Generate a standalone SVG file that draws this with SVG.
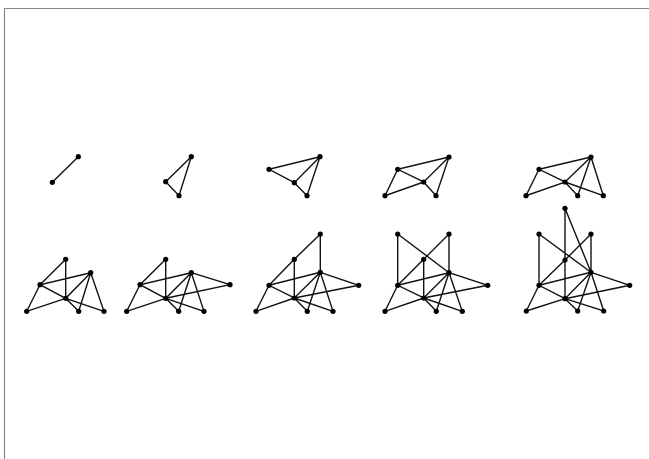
<svg xmlns="http://www.w3.org/2000/svg" width="649" height="459" viewBox="0 0 649 459">
<style>
.e{stroke:#111;stroke-width:1.4;fill:none}
.n{fill:#000}
.frame{stroke:#8a8a8a;stroke-width:1.2;fill:none}
</style>
<rect width="649" height="459" fill="#fff"/>
<path class="frame" d="M4.5,459 V8.5 H649"/>
<g id="connectors" class="e">
<!-- G1 -->
<line x1="78.3" y1="156.7" x2="52.3" y2="182.3"/>
<!-- G2 -->
<path d="M191.3,156.7 L165.7,181.7 L179,195.7 Z"/>
<!-- G3 -->
<path d="M320,156.7 L269,169.3 L294.3,182.7 Z M294.3,182.7 L307,195.7 L320,156.7"/>
<!-- G4 -->
<path d="M449,157 L397.7,169.3 L423.7,182 Z M449,157 L436,195.7 L423.7,182 M397.7,169.3 L385,195.7 L423.7,182"/>
<!-- G5 -->
<path d="M591,157 L539,169.3 L565,182 Z M591,157 L577.7,195.7 M591,157 L603.3,195.7 L565,182 M539,169.3 L526,195.7 L565,182 L577.7,195.7"/>
<!-- G6 -->
<path d="M65.7,259.3 L40,284.7 M65.7,259.3 L65.7,298.3 M90.7,272.7 L40,284.7 L65.7,298.3 Z M90.7,272.7 L78.7,311.3 M90.7,272.7 L104,311.3 L65.7,298.3 L78.7,311.3 M40,284.7 L26.7,311.3 L65.7,298.3"/>
<!-- G7 -->
<path d="M165.7,259.3 L140,284.7 M165.7,259.3 L165.7,298.3 M191.3,272.7 L140,284.7 L165.7,298.3 Z M191.3,272.7 L178.7,311.3 M191.3,272.7 L204,311.3 L165.7,298.3 L178.7,311.3 M140,284.7 L126.7,311.3 L165.7,298.3 M191.3,272.7 L230,284.7 L165.7,298.3"/>
<!-- G8 -->
<path d="M320.3,234 L294.3,259.3 M320.3,234 L320.3,272.3 M294.3,259.3 L269,285.3 M294.3,259.3 L294.3,298 M320.3,272.3 L269,285.3 L294.3,298 Z M320.3,272.3 L307.3,311.3 M320.3,272.3 L333,311.3 L294.3,298 L307.3,311.3 M269,285.3 L256,311.3 L294.3,298 M320.3,272.3 L358.7,285.3 L294.3,298"/>
<!-- G9 -->
<path d="M397.7,234 L397.7,285.3 M397.7,234 L449,272.7 M449,234 L423.7,259.3 M449,234 L449,272.7 M423.7,259.3 L397.7,285.3 M423.7,259.3 L423.7,298 M449,272.7 L397.7,285.3 L423.7,298 Z M449,272.7 L436.3,311.3 M449,272.7 L462.3,311.3 L423.7,298 L436.3,311.3 M397.7,285.3 L385,311.3 L423.7,298 M449,272.7 L487.7,285.3 L423.7,298"/>
<!-- G10 -->
<path d="M565,208.3 L565,260 M565,208.3 L591,272.3 M539,234 L539,285.3 M539,234 L591,272.3 M591,234 L565,260 M591,234 L591,272.3 M565,260 L539,285.3 M565,260 L565,298.7 M591,272.3 L539,285.3 L565,298.7 Z M591,272.3 L577.7,311 M591,272.3 L603.7,311 L565,298.7 L577.7,311 M539,285.3 L526.3,311 L565,298.7 M591,272.3 L629.7,285.3 L565,298.7"/>
</g>
<g id="g1a"><circle class="n" cx="78.3" cy="156.7" r="2.6"/></g>
<g id="g1b"><circle class="n" cx="52.3" cy="182.3" r="2.6"/></g>
<g id="g2a"><circle class="n" cx="191.3" cy="156.7" r="2.6"/></g>
<g id="g2b"><circle class="n" cx="165.7" cy="181.7" r="2.6"/></g>
<g id="g2c"><circle class="n" cx="179" cy="195.7" r="2.6"/></g>
<g id="g3a"><circle class="n" cx="320" cy="156.7" r="2.6"/></g>
<g id="g3b"><circle class="n" cx="269" cy="169.3" r="2.6"/></g>
<g id="g3c"><circle class="n" cx="294.3" cy="182.7" r="2.6"/></g>
<g id="g3d"><circle class="n" cx="307" cy="195.7" r="2.6"/></g>
<g id="g4a"><circle class="n" cx="449" cy="157" r="2.6"/></g>
<g id="g4b"><circle class="n" cx="397.7" cy="169.3" r="2.6"/></g>
<g id="g4c"><circle class="n" cx="423.7" cy="182" r="2.6"/></g>
<g id="g4d"><circle class="n" cx="436" cy="195.7" r="2.6"/></g>
<g id="g4e"><circle class="n" cx="385" cy="195.7" r="2.6"/></g>
<g id="g5a"><circle class="n" cx="591" cy="157" r="2.6"/></g>
<g id="g5b"><circle class="n" cx="539" cy="169.3" r="2.6"/></g>
<g id="g5c"><circle class="n" cx="565" cy="182" r="2.6"/></g>
<g id="g5d"><circle class="n" cx="577.7" cy="195.7" r="2.6"/></g>
<g id="g5e"><circle class="n" cx="526" cy="195.7" r="2.6"/></g>
<g id="g5f"><circle class="n" cx="603.3" cy="195.7" r="2.6"/></g>
<g id="g6g"><circle class="n" cx="65.7" cy="259.3" r="2.6"/></g>
<g id="g6a"><circle class="n" cx="90.7" cy="272.7" r="2.6"/></g>
<g id="g6b"><circle class="n" cx="40" cy="284.7" r="2.6"/></g>
<g id="g6c"><circle class="n" cx="65.7" cy="298.3" r="2.6"/></g>
<g id="g6d"><circle class="n" cx="78.7" cy="311.3" r="2.6"/></g>
<g id="g6e"><circle class="n" cx="26.7" cy="311.3" r="2.6"/></g>
<g id="g6f"><circle class="n" cx="104" cy="311.3" r="2.6"/></g>
<g id="g7g"><circle class="n" cx="165.7" cy="259.3" r="2.6"/></g>
<g id="g7a"><circle class="n" cx="191.3" cy="272.7" r="2.6"/></g>
<g id="g7b"><circle class="n" cx="140" cy="284.7" r="2.6"/></g>
<g id="g7c"><circle class="n" cx="165.7" cy="298.3" r="2.6"/></g>
<g id="g7d"><circle class="n" cx="178.7" cy="311.3" r="2.6"/></g>
<g id="g7e"><circle class="n" cx="126.7" cy="311.3" r="2.6"/></g>
<g id="g7f"><circle class="n" cx="204" cy="311.3" r="2.6"/></g>
<g id="g7h"><circle class="n" cx="230" cy="284.7" r="2.6"/></g>
<g id="g8i"><circle class="n" cx="320.3" cy="234" r="2.6"/></g>
<g id="g8g"><circle class="n" cx="294.3" cy="259.3" r="2.6"/></g>
<g id="g8a"><circle class="n" cx="320.3" cy="272.3" r="2.6"/></g>
<g id="g8b"><circle class="n" cx="269" cy="285.3" r="2.6"/></g>
<g id="g8c"><circle class="n" cx="294.3" cy="298" r="2.6"/></g>
<g id="g8d"><circle class="n" cx="307.3" cy="311.3" r="2.6"/></g>
<g id="g8e"><circle class="n" cx="256" cy="311.3" r="2.6"/></g>
<g id="g8f"><circle class="n" cx="333" cy="311.3" r="2.6"/></g>
<g id="g8h"><circle class="n" cx="358.7" cy="285.3" r="2.6"/></g>
<g id="g9j"><circle class="n" cx="397.7" cy="234" r="2.6"/></g>
<g id="g9i"><circle class="n" cx="449" cy="234" r="2.6"/></g>
<g id="g9g"><circle class="n" cx="423.7" cy="259.3" r="2.6"/></g>
<g id="g9a"><circle class="n" cx="449" cy="272.7" r="2.6"/></g>
<g id="g9b"><circle class="n" cx="397.7" cy="285.3" r="2.6"/></g>
<g id="g9c"><circle class="n" cx="423.7" cy="298" r="2.6"/></g>
<g id="g9d"><circle class="n" cx="436.3" cy="311.3" r="2.6"/></g>
<g id="g9e"><circle class="n" cx="385" cy="311.3" r="2.6"/></g>
<g id="g9f"><circle class="n" cx="462.3" cy="311.3" r="2.6"/></g>
<g id="g9h"><circle class="n" cx="487.7" cy="285.3" r="2.6"/></g>
<g id="g10k"><circle class="n" cx="565" cy="208.3" r="2.6"/></g>
<g id="g10j"><circle class="n" cx="539" cy="234" r="2.6"/></g>
<g id="g10i"><circle class="n" cx="591" cy="234" r="2.6"/></g>
<g id="g10g"><circle class="n" cx="565" cy="260" r="2.6"/></g>
<g id="g10a"><circle class="n" cx="591" cy="272.3" r="2.6"/></g>
<g id="g10b"><circle class="n" cx="539" cy="285.3" r="2.6"/></g>
<g id="g10c"><circle class="n" cx="565" cy="298.7" r="2.6"/></g>
<g id="g10d"><circle class="n" cx="577.7" cy="311" r="2.6"/></g>
<g id="g10e"><circle class="n" cx="526.3" cy="311" r="2.6"/></g>
<g id="g10f"><circle class="n" cx="603.7" cy="311" r="2.6"/></g>
<g id="g10h"><circle class="n" cx="629.7" cy="285.3" r="2.6"/></g>
</svg>
